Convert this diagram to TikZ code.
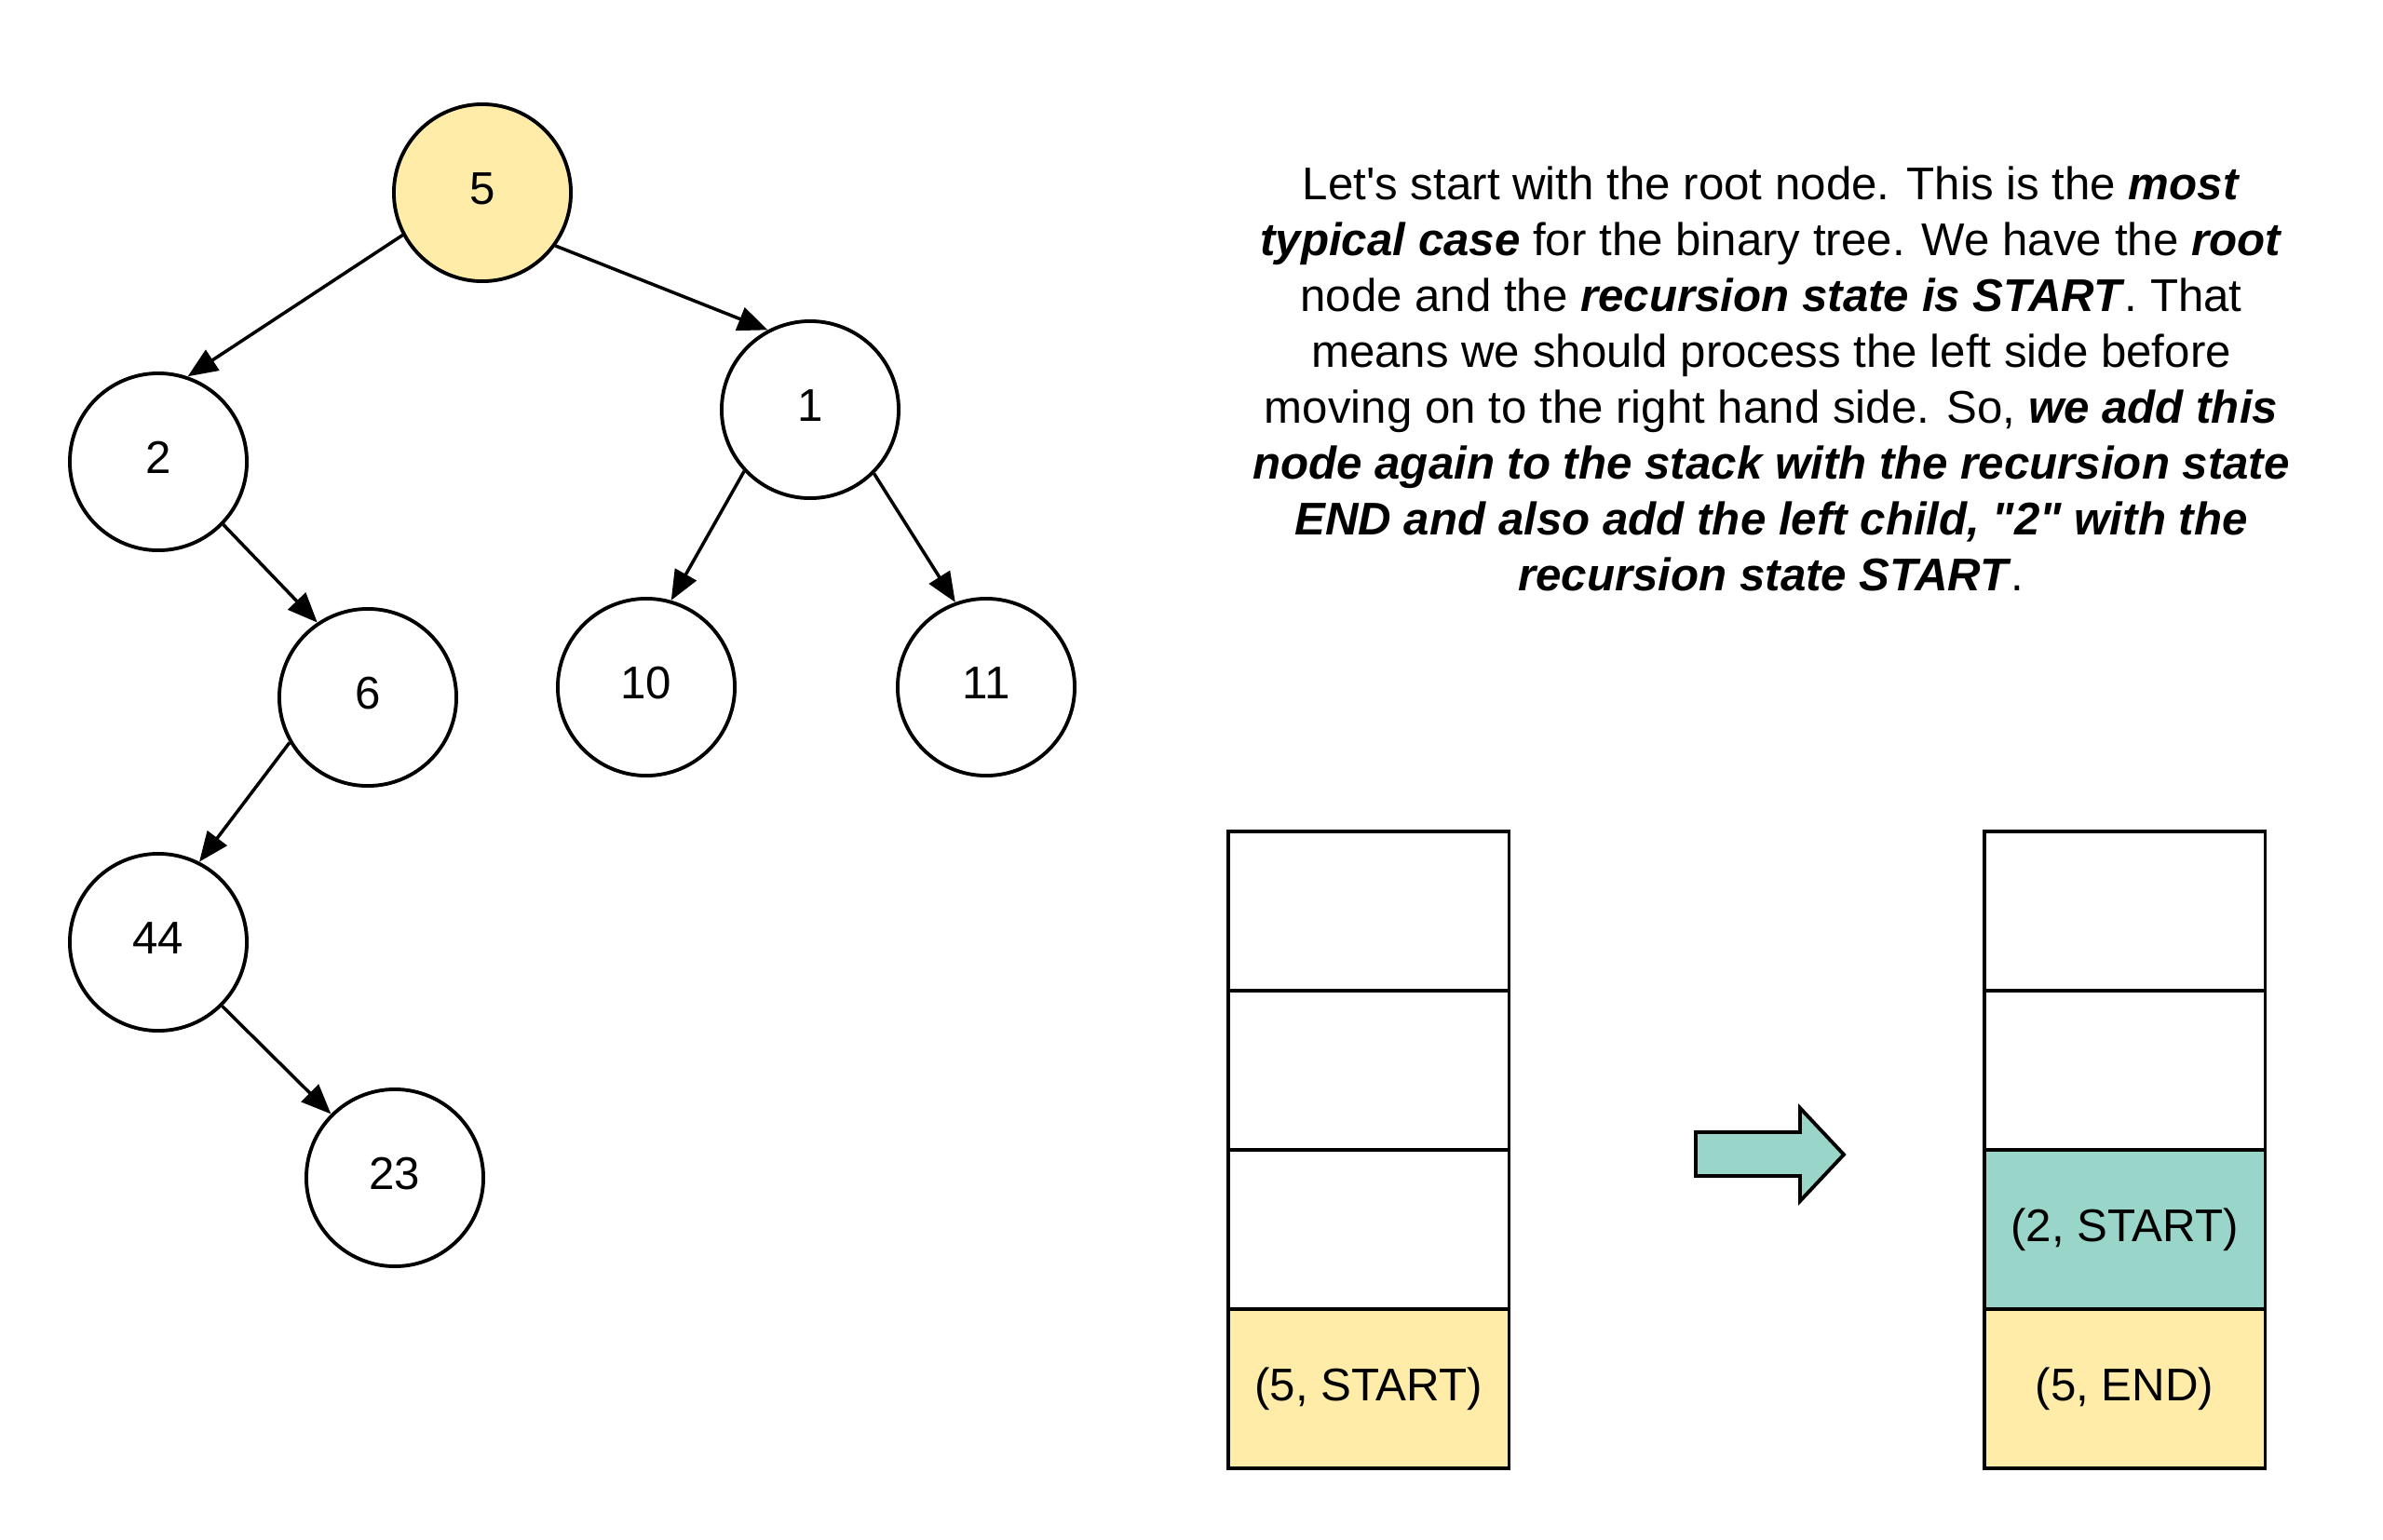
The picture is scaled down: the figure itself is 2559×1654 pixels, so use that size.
\documentclass[tikz,border=0pt]{standalone}
\usepackage{fontspec}
\setmainfont{Liberation Sans}
\usetikzlibrary{arrows.meta}
\definecolor{rootyellow}{HTML}{FFECA8}
\definecolor{pushteal}{HTML}{9AD5CA}
\newcommand\bi[1]{\textbf{\textit{#1}}}
\tikzset{
    every node/.style={align=center,font=\fontsize{14pt}{17.07pt}\selectfont,},
    treenode/.style={draw,circle,line width=1.1pt,minimum size=1.9cm,inner sep=0pt,text depth=2.6pt,},
    cell/.style={draw,rectangle,line width=0.9pt,minimum width=3.01cm,minimum height=1.71cm,inner sep=0pt,},
    child/.style={line width=1pt,-{Triangle[length=3.2mm,width=2.6mm]},},
    blockarrow/.style={draw,fill=pushteal,line width=1.1pt,line join=miter,},
}

\begin{document}
\begin{tikzpicture}[x=0.01cm,y=-0.01cm]
                \useasboundingbox (0,0) rectangle (2559,1654);

                % the tree
                \node[treenode,fill=rootyellow] (n5) at (518, 207) {5};
                \node[treenode] (n2) at (170, 496) {2};
                \node[treenode] (n1) at (870, 440) {1};
                \node[treenode] (n6) at (395, 749) {6};
                \node[treenode] (n10) at (694, 738) {10};
                \node[treenode] (n11) at (1059, 738) {11};
                \node[treenode] (n44) at (170, 1012) {44};
                \node[treenode] (n23) at (424, 1265) {23};

                \draw[child] (n5.208) -- (n2.71);
                \draw[child] (n5.-36) -- (n1.118);
                \draw[child] (n2.-44) -- (n6.124);
                \draw[child] (n1.223) -- (n10.74);
                \draw[child] (n1.-45) -- (n11.110);
                \draw[child] (n6.210) -- (n44.63);
                \draw[child] (n44.-45) -- (n23.135);

                % explanation
                \node (explain) at (1902, 407) {Let\textquotesingle s start with the root node. This is the \bi{most}\\
                    \bi{typical case} for the binary tree. We have the \bi{root}\\
                    node and the \bi{recursion state is START}. That\\
                    means we should process the left side before\\
                    moving on to the right hand side. So, \bi{we add this}\\
                    \bi{node again to the stack with the recursion state}\\
                    \bi{END and also add the left child, \textquotedbl 2\textquotedbl\ with the}\\
                    \bi{recursion state START}.};

                % stack before
                \node[cell] (before1) at (1469.5, 978.5) {};
                \node[cell] (before2) at (1469.5, 1149.5) {};
                \node[cell] (before3) at (1469.5, 1320.5) {};
                \node[cell,fill=rootyellow] (before4) at (1469.5, 1491.5) {(5, START)};

                % stack after
                \node[cell] (after1) at (2281.5, 978.5) {};
                \node[cell] (after2) at (2281.5, 1149.5) {};
                \node[cell,fill=pushteal] (after3) at (2281.5, 1320.5) {(2, START)};
                \node[cell,fill=rootyellow] (after4) at (2281.5, 1491.5) {(5, END)};

                \draw[blockarrow] (1821, 1216) -- (1933, 1216) -- (1933, 1190) -- (1980, 1240)
                    -- (1933, 1290) -- (1933, 1263) -- (1821, 1263) -- cycle;
            \end{tikzpicture}
\end{document}
